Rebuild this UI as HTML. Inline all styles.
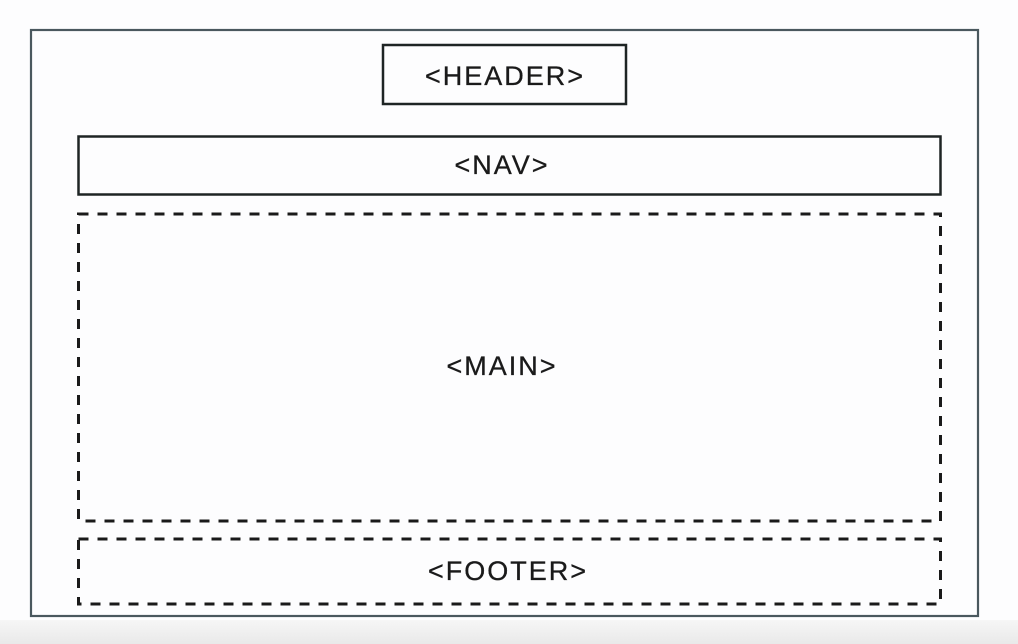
<!DOCTYPE html>
<html><head><meta charset="utf-8"><style>
html,body{margin:0;padding:0;width:1018px;height:644px;overflow:hidden;background:#fcfcfd}
</style></head><body>
<svg width="1018" height="644" viewBox="0 0 1018 644" xmlns="http://www.w3.org/2000/svg">
<defs><linearGradient id="g" x1="0" y1="0" x2="0" y2="1"><stop offset="0" stop-color="#f6f6f6"/><stop offset="1" stop-color="#e9e9e9"/></linearGradient></defs>
<rect x="0" y="0" width="1018" height="644" fill="#fdfdfe"/>
<rect x="0" y="620" width="1018" height="24" fill="url(#g)"/>
<rect x="31" y="30" width="947" height="586" fill="#fdfdfe" stroke="#4a585e" stroke-width="2.2"/>
<rect x="383" y="45" width="243" height="59" fill="none" stroke="#1e2424" stroke-width="2.5"/>
<rect x="78.5" y="136.5" width="862" height="58" fill="none" stroke="#1e2424" stroke-width="2.5"/>
<rect x="78.5" y="214" width="862" height="307" fill="none" stroke="#1a1a1a" stroke-width="3" stroke-dasharray="10 9"/>
<rect x="78.5" y="539" width="862" height="65" fill="none" stroke="#1a1a1a" stroke-width="3" stroke-dasharray="10 9"/>
<g font-family="Liberation Sans, sans-serif" font-size="27" fill="#1a1a1a" text-anchor="middle" letter-spacing="2" stroke="#1a1a1a" stroke-width="0.3">
<text x="505" y="85">&lt;HEADER&gt;</text>
<text x="502" y="174">&lt;NAV&gt;</text>
<text x="502" y="375">&lt;MAIN&gt;</text>
<text x="508" y="580">&lt;FOOTER&gt;</text>
</g>
</svg>
</body></html>
